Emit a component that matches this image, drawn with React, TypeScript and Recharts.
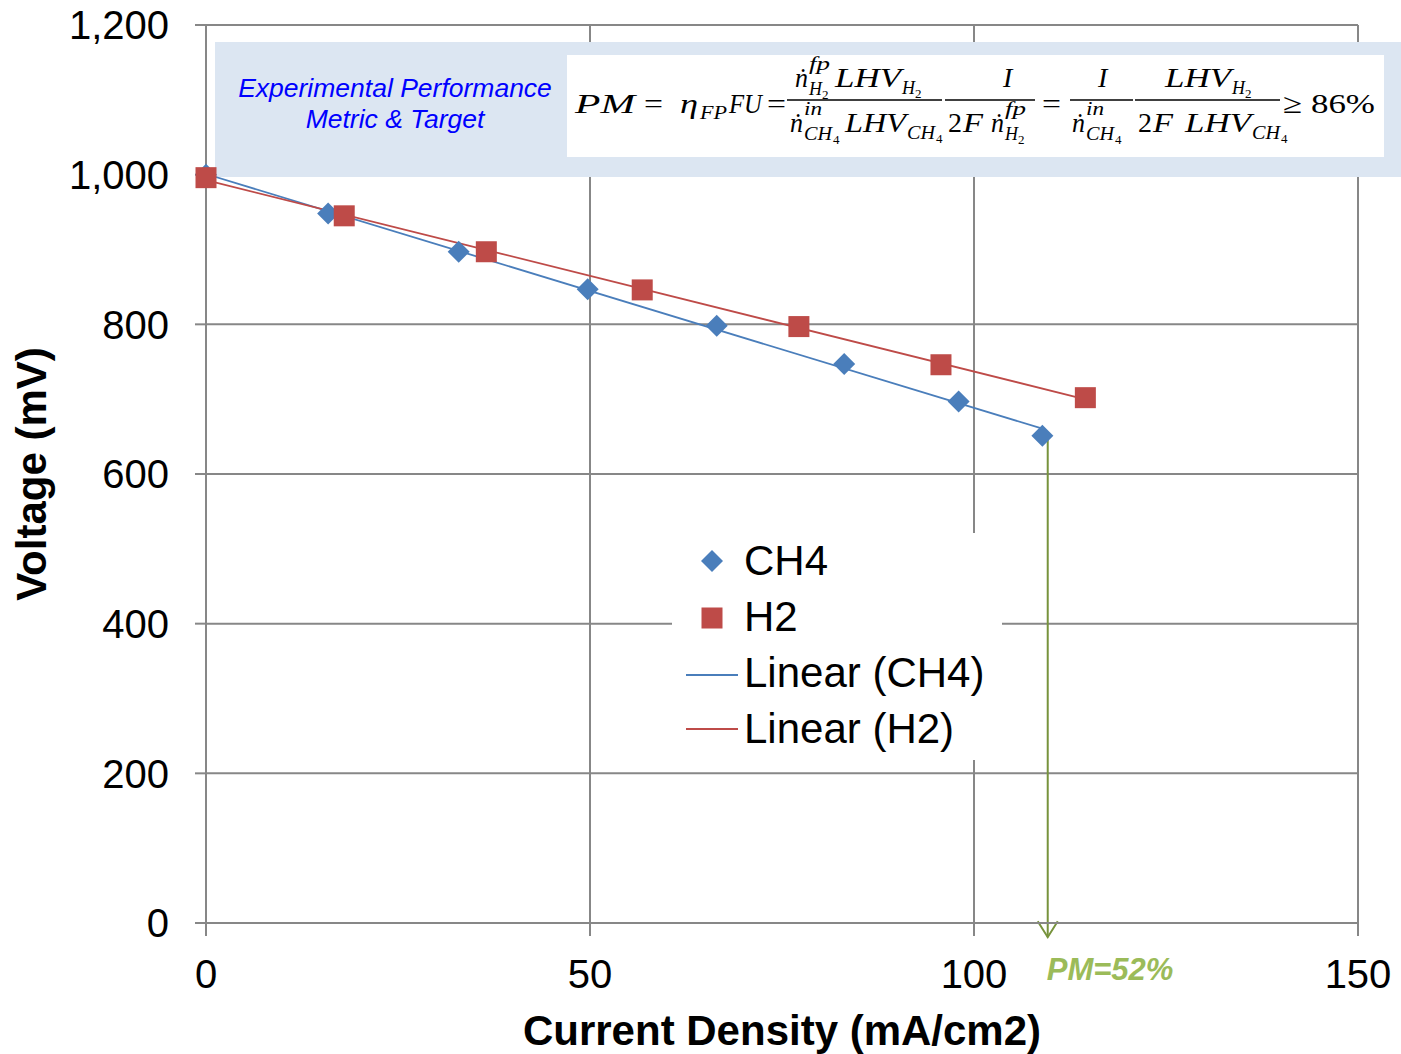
import React from 'react'
import {
  ComposedChart,
  Scatter,
  Line,
  XAxis,
  YAxis,
  CartesianGrid,
  Legend,
  ReferenceLine,
  Customized,
  Label,
} from 'recharts'

// Measured points (current density mA/cm2, voltage mV)
const ch4Current = [0, 15.9, 32.9, 49.7, 66.5, 83.1, 98.0, 108.9]
const ch4Voltage = [1000, 948, 897, 847, 798, 747, 697, 651]
const h2Current = [0, 18.0, 36.5, 56.8, 77.2, 95.7, 114.5]
const h2Voltage = [996, 945, 897, 846, 797, 746, 702]

const xTicks = [0, 50, 100, 150]
const yTicks = [0, 200, 400, 600, 800, 1000, 1200]

// PM arrow: drawn from the last CH4 point down to the axis
const pmCurrent = 109.6
const pmTop = 651
const pmBottom = -19
const pmText = 'PM=52%'

const SANS = "'Liberation Sans', Arial, sans-serif"
const MATH = "'Liberation Serif', 'DejaVu Serif', serif"
const GRID = '#878787'
const BLUE = '#4a7ebb'
const RED = '#be4b48'

const toPoints = (xs: number[], ys: number[]) => xs.map((x, i) => ({ x, y: ys[i] }))

// least squares trendline, like Excel "Linear (...)"
function trend(xs: number[], ys: number[]) {
  const n = xs.length
  const mx = xs.reduce((a, b) => a + b, 0) / n
  const my = ys.reduce((a, b) => a + b, 0) / n
  let sxy = 0
  let sxx = 0
  xs.forEach((x, i) => {
    sxy += (x - mx) * (ys[i] - my)
    sxx += (x - mx) * (x - mx)
  })
  const k = sxy / sxx
  const b = my - k * mx
  const x0 = Math.min(...xs)
  const x1 = Math.max(...xs)
  return [
    { x: x0, y: b + k * x0 },
    { x: x1, y: b + k * x1 },
  ]
}

const ch4Data = toPoints(ch4Current, ch4Voltage)
const h2Data = toPoints(h2Current, h2Voltage)
const ch4Trend = trend(ch4Current, ch4Voltage)
const h2Trend = trend(h2Current, h2Voltage)

const Diamond = (props: any) => {
  const { cx, cy } = props
  const r = 11
  return (
    <polygon
      points={`${cx},${cy - r} ${cx + r},${cy} ${cx},${cy + r} ${cx - r},${cy}`}
      fill={BLUE}
    />
  )
}

const Square = (props: any) => {
  const { cx, cy } = props
  const s = 21
  return <rect x={cx - s / 2} y={cy - s / 2} width={s} height={s} fill={RED} />
}

const M = ({ x, y, t, size = 28, italic = true, w }: any) => (
  <text
    x={x}
    y={y}
    fontSize={size}
    fontStyle={italic ? 'italic' : 'normal'}
    fontFamily={MATH}
    fill="#000"
    textLength={w}
    lengthAdjust={w ? 'spacingAndGlyphs' : undefined}
  >
    {t}
  </text>
)

const Bar = ({ x1, x2 }: any) => <line x1={x1} x2={x2} y1={100} y2={100} stroke="#000" strokeWidth={1.5} />

// n-dot with super/subscripts
const NDot = ({ x, y, sup, sub, subIdx }: any) => (
  <g>
    <M x={x} y={y} t={'\u1E45'} w={13} />
    <M x={x + 14} y={y - 17} t={sup} size={19} w={sup === 'fp' ? 21 : 18} />
    <M x={x + 14} y={y + 8} t={sub} size={19} w={sub === 'CH' ? 28 : 13} />
    <M x={x + 14 + (sub === 'CH' ? 29 : 13)} y={y + 12} t={subIdx} size={13} italic={false} />
  </g>
)

const LHV = ({ x, y, sub, subIdx, w = 66 }: any) => (
  <g>
    <M x={x} y={y} t="LHV" w={w} />
    <M x={x + w + 1} y={y + 7} t={sub} size={19} w={sub === 'CH' ? 28 : 13} />
    <M x={x + w + 1 + (sub === 'CH' ? 29 : 13)} y={y + 11} t={subIdx} size={13} italic={false} />
  </g>
)

const FormulaBox = () => (
  <g>
    <rect x={215} y={42} width={1186} height={135} fill="#dce6f2" />
    <text x={395} y={97} textAnchor="middle" fontSize={26.5} fontStyle="italic" fontFamily={SANS} fill="#0000ff">
      Experimental Performance
    </text>
    <text x={395} y={128} textAnchor="middle" fontSize={26.5} fontStyle="italic" fontFamily={SANS} fill="#0000ff">
      Metric &amp; Target
    </text>
    <rect x={567} y={55} width={817} height={102} fill="#fff" />

    <M x={575} y={113} t="PM" w={60} />
    <M x={644} y={113} t="=" italic={false} w={19} />
    <M x={680} y={113} t={'\u03B7'} w={18} />
    <M x={700} y={119} t="FP" size={19} w={27} />
    <M x={729} y={113} t="FU" w={33} />
    <M x={767} y={113} t="=" italic={false} w={19} />

    <Bar x1={787} x2={942} />
    <NDot x={795} y={87} sup="fp" sub="H" subIdx="2" />
    <LHV x={835} y={87} sub="H" subIdx="2" />
    <NDot x={790} y={132} sup="in" sub="CH" subIdx="4" />
    <LHV x={845} y={132} sub="CH" subIdx="4" w={61} />

    <Bar x1={945} x2={1035} />
    <M x={1003} y={87} t="I" />
    <M x={948} y={132} t="2" italic={false} />
    <M x={963} y={132} t="F" w={20} />
    <NDot x={991} y={132} sup="fp" sub="H" subIdx="2" />

    <M x={1042} y={113} t="=" italic={false} w={19} />

    <Bar x1={1070} x2={1133} />
    <M x={1098} y={87} t="I" />
    <NDot x={1072} y={132} sup="in" sub="CH" subIdx="4" />

    <Bar x1={1135} x2={1280} />
    <LHV x={1165} y={87} sub="H" subIdx="2" />
    <M x={1138} y={132} t="2" italic={false} />
    <M x={1153} y={132} t="F" w={20} />
    <LHV x={1185} y={132} sub="CH" subIdx="4" />

    <M x={1283} y={113} t={'\u2265 86%'} italic={false} w={92} />
  </g>
)

const PmArrow = (props: any) => {
  const { x1, y1, x2, y2 } = props
  return (
    <g>
      <line x1={x1} y1={y1} x2={x2} y2={y2} stroke="#77933c" strokeWidth={2} />
      <polyline
        points={`${x2 - 10},${y2 - 16} ${x2},${y2} ${x2 + 10},${y2 - 16}`}
        fill="none"
        stroke="#77933c"
        strokeWidth={2}
      />
      <text x={x2 - 1} y={y2 + 43} fontSize={31} fontWeight="bold" fontStyle="italic" fontFamily={SANS} fill="#9bbb59">
        {pmText}
      </text>
    </g>
  )
}

const LegendBox = () => {
  const rows = [
    { label: 'CH4', kind: 'diamond' },
    { label: 'H2', kind: 'square' },
    { label: 'Linear (CH4)', kind: 'lineBlue' },
    { label: 'Linear (H2)', kind: 'lineRed' },
  ]
  return (
    <svg width={330} height={227} style={{ display: 'block' }}>
      <rect x={0} y={0} width={330} height={227} fill="#fff" />
      {rows.map((r, i) => {
        const cy = 28 + i * 56
        return (
          <g key={r.label}>
            {r.kind === 'diamond' && <Diamond cx={40} cy={cy} />}
            {r.kind === 'square' && <Square cx={40} cy={cy + 1} />}
            {r.kind === 'lineBlue' && <line x1={14} x2={66} y1={cy + 2} y2={cy + 2} stroke={BLUE} strokeWidth={2} />}
            {r.kind === 'lineRed' && <line x1={14} x2={66} y1={cy} y2={cy} stroke={RED} strokeWidth={2} />}
            <text x={72} y={cy + 14} fontSize={42} fontFamily={SANS} fill="#000">
              {r.label}
            </text>
          </g>
        )
      })}
    </svg>
  )
}

export default function App() {
  const tick = { fontSize: 40, fill: '#000', fontFamily: SANS }
  return (
    <div style={{ position: 'absolute', left: 0, top: 0, width: 1401, height: 1054, background: '#fff' }}>
      <ComposedChart width={1401} height={1054} margin={{ top: 25, right: 43, left: 0, bottom: 0 }}>
        <CartesianGrid stroke={GRID} strokeWidth={2} />
        <XAxis
          type="number"
          dataKey="x"
          domain={[0, 150]}
          ticks={xTicks}
          height={131}
          tick={tick}
          tickSize={13}
          tickMargin={24}
          axisLine={{ stroke: GRID, strokeWidth: 2 }}
          tickLine={{ stroke: GRID, strokeWidth: 2 }}
        >
          <Label
            content={(p: any) => (
              <text
                x={p.viewBox.x + p.viewBox.width / 2}
                y={p.viewBox.y + 122}
                textAnchor="middle"
                fontSize={42}
                fontWeight="bold"
                fontFamily={SANS}
                fill="#000"
              >
                Current Density (mA/cm2)
              </text>
            )}
          />
        </XAxis>
        <YAxis
          type="number"
          dataKey="y"
          domain={[0, 1200]}
          ticks={yTicks}
          width={206}
          tick={tick}
          tickSize={11}
          tickMargin={26}
          tickFormatter={(v: number) => v.toLocaleString('en-US')}
          axisLine={{ stroke: GRID, strokeWidth: 2 }}
          tickLine={{ stroke: GRID, strokeWidth: 2 }}
        >
          <Label
            content={(p: any) => {
              const cx = 46
              const cy = p.viewBox.y + p.viewBox.height / 2
              return (
                <text
                  x={cx}
                  y={cy}
                  transform={`rotate(-90, ${cx}, ${cy})`}
                  textAnchor="middle"
                  fontSize={42}
                  fontWeight="bold"
                  fontFamily={SANS}
                  fill="#000"
                >
                  Voltage (mV)
                </text>
              )
            }}
          />
        </YAxis>
        <Customized component={FormulaBox} />
        <Line data={ch4Trend} dataKey="y" stroke={BLUE} strokeWidth={1.8} dot={false} isAnimationActive={false} legendType="none" />
        <Line data={h2Trend} dataKey="y" stroke={RED} strokeWidth={1.8} dot={false} isAnimationActive={false} legendType="none" />
        <Scatter name="CH4" data={ch4Data} dataKey="y" shape={Diamond} isAnimationActive={false} />
        <Scatter name="H2" data={h2Data} dataKey="y" shape={Square} isAnimationActive={false} />
        <ReferenceLine
          segment={[
            { x: pmCurrent, y: pmTop },
            { x: pmCurrent, y: pmBottom },
          ]}
          ifOverflow="visible"
          shape={PmArrow}
        />
        <Legend
          layout="horizontal"
          verticalAlign="middle"
          align="center"
          content={() => <LegendBox />}
          wrapperStyle={{ left: 672, top: 533, width: 330, height: 227 }}
        />
      </ComposedChart>
    </div>
  )
}
